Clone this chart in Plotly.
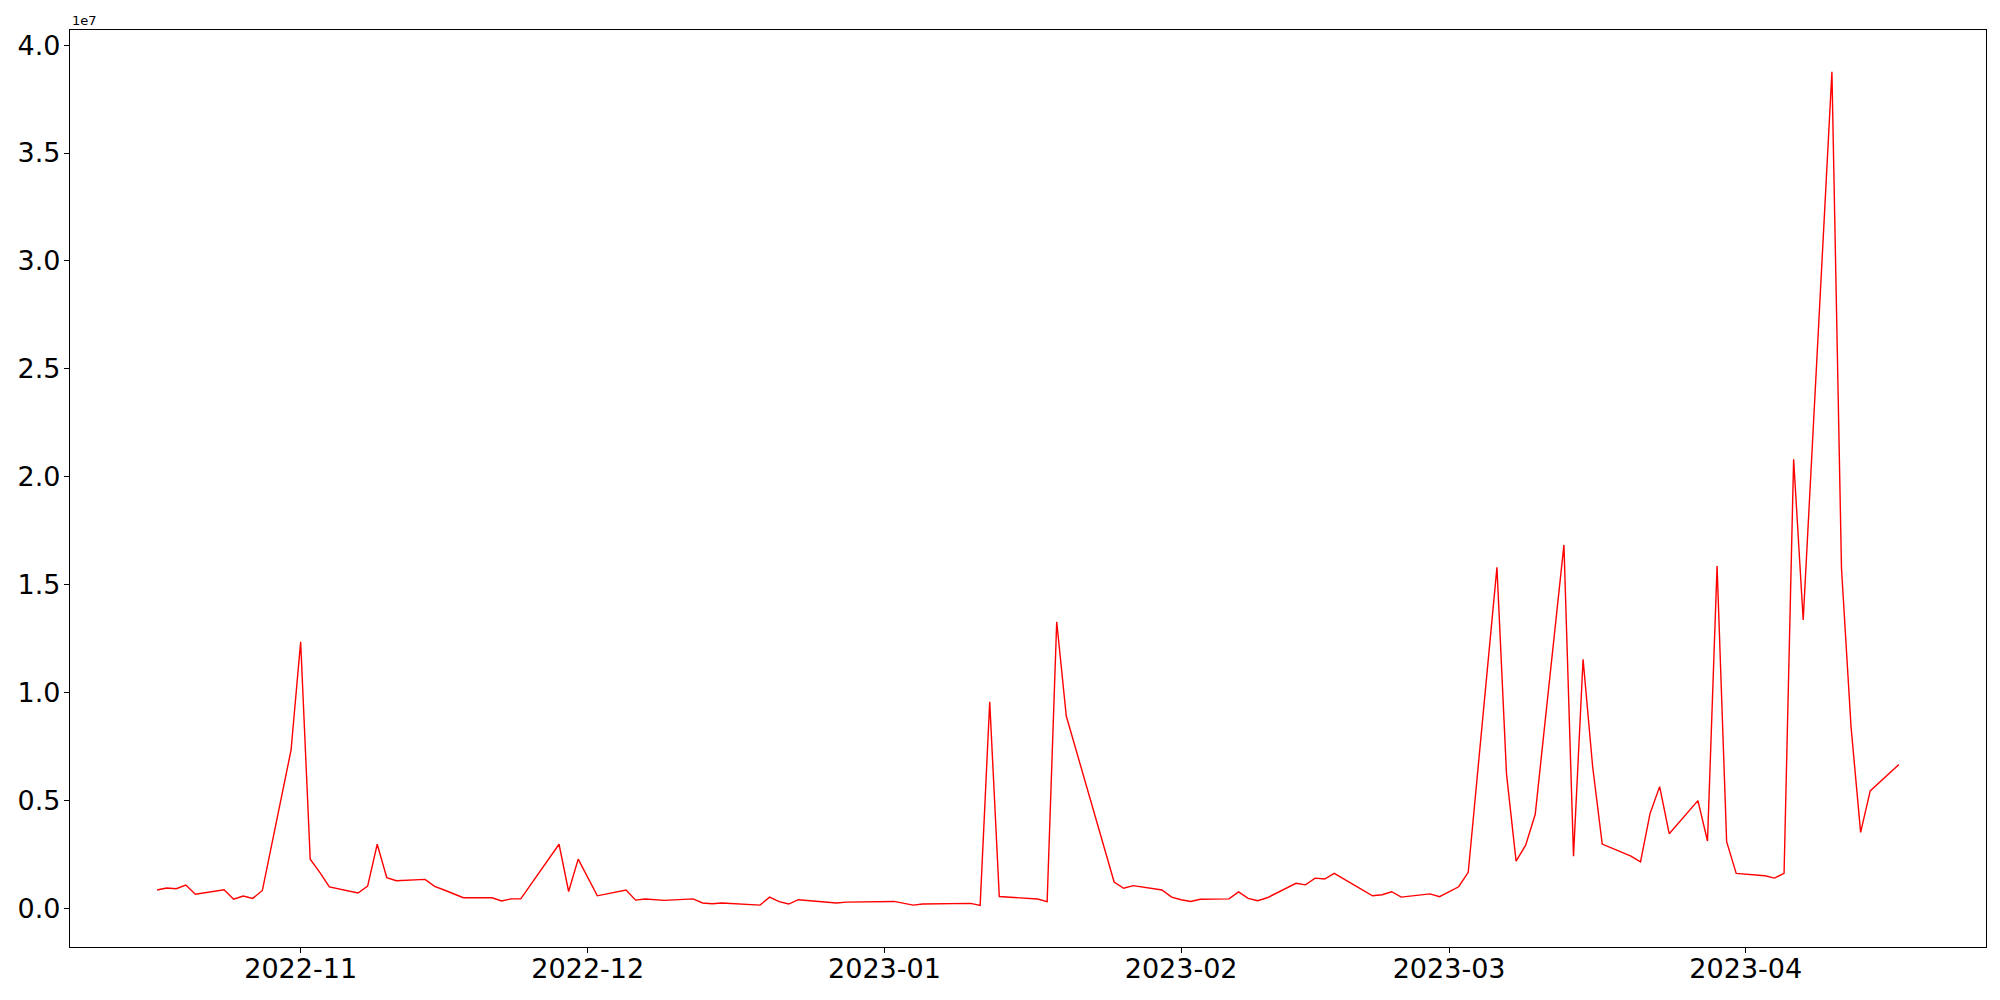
import plotly.graph_objects as go
from datetime import datetime, timedelta

dates = [
    "2022-10-17", "2022-10-18", "2022-10-19", "2022-10-20", "2022-10-21",
    "2022-10-24", "2022-10-25", "2022-10-26", "2022-10-27", "2022-10-28",
    "2022-10-31", "2022-11-01", "2022-11-02", "2022-11-03", "2022-11-04",
    "2022-11-07", "2022-11-08", "2022-11-09", "2022-11-10", "2022-11-11",
    "2022-11-14", "2022-11-15", "2022-11-16", "2022-11-18",
    "2022-11-21", "2022-11-22", "2022-11-23", "2022-11-24",
    "2022-11-28", "2022-11-29", "2022-11-30", "2022-12-02",
    "2022-12-05", "2022-12-06", "2022-12-07", "2022-12-09",
    "2022-12-12", "2022-12-13", "2022-12-14", "2022-12-15",
    "2022-12-19", "2022-12-20", "2022-12-21", "2022-12-22", "2022-12-23",
    "2022-12-27", "2022-12-28", "2023-01-02", "2023-01-04", "2023-01-05",
    "2023-01-10", "2023-01-11", "2023-01-12", "2023-01-13",
    "2023-01-17", "2023-01-18", "2023-01-19", "2023-01-20",
    "2023-01-25", "2023-01-26", "2023-01-27",
    "2023-01-30", "2023-01-31", "2023-02-01", "2023-02-02", "2023-02-03",
    "2023-02-06", "2023-02-07", "2023-02-08", "2023-02-09", "2023-02-10",
    "2023-02-13", "2023-02-14", "2023-02-15", "2023-02-16", "2023-02-17",
    "2023-02-21", "2023-02-22", "2023-02-23", "2023-02-24",
    "2023-02-27", "2023-02-28", "2023-03-02", "2023-03-03",
    "2023-03-06", "2023-03-07", "2023-03-08", "2023-03-09", "2023-03-10",
    "2023-03-13", "2023-03-14", "2023-03-15", "2023-03-16", "2023-03-17",
    "2023-03-20", "2023-03-21", "2023-03-22", "2023-03-23", "2023-03-24",
    "2023-03-27", "2023-03-28", "2023-03-29", "2023-03-30", "2023-03-31",
    "2023-04-03", "2023-04-04", "2023-04-05", "2023-04-06", "2023-04-07",
    "2023-04-10", "2023-04-11", "2023-04-12", "2023-04-13", "2023-04-14",
    "2023-04-17",
]

volume = [
    850000, 940000, 910000, 1080000, 650000,
    860000, 420000, 570000, 460000, 830000,
    7340000, 12350000, 2280000, 1670000, 990000,
    710000, 1030000, 2970000, 1420000, 1280000,
    1340000, 1020000, 850000, 490000,
    490000, 340000, 440000, 440000,
    2970000, 780000, 2280000, 580000,
    850000, 380000, 430000, 370000,
    440000, 250000, 210000, 250000,
    150000, 520000, 310000, 200000, 400000,
    250000, 290000, 320000, 150000, 200000,
    230000, 140000, 9570000, 550000,
    430000, 310000, 13280000, 8910000,
    1220000, 930000, 1050000,
    850000, 520000, 400000, 320000, 420000,
    440000, 760000, 460000, 350000, 490000,
    1160000, 1090000, 1400000, 1360000, 1620000,
    580000, 630000, 770000, 520000,
    670000, 540000, 1000000, 1670000,
    15800000, 6220000, 2190000, 2930000, 4360000,
    16840000, 2420000, 11540000, 6560000, 2980000,
    2420000, 2150000, 4400000, 5640000, 3460000,
    4990000, 3120000, 15860000, 3090000, 1620000,
    1510000, 1400000, 1620000, 20810000, 13360000,
    38770000, 15760000, 8400000, 3520000, 5440000,
    6670000,
]

y_tick_labels = ["0.0", "0.5", "1.0", "1.5", "2.0", "2.5", "3.0", "3.5", "4.0"]
y_tick_values = [i * 5e6 for i in range(len(y_tick_labels))]
offset_label = "1e7"

# matplotlib-like 5% margins
d0 = datetime.fromisoformat(dates[0])
d1 = datetime.fromisoformat(dates[-1])
pad = (d1 - d0) * 0.05
x_range = [(d0 - pad).isoformat(), (d1 + pad).isoformat()]
vmin, vmax = min(volume), max(volume)
ypad = (vmax - vmin) * 0.05
y_range = [vmin - ypad, vmax + ypad]

fig = go.Figure()
fig.add_trace(go.Scatter(
    x=dates, y=volume, mode="lines",
    line=dict(color="red", width=1.4),
    showlegend=False,
))

font_family = "DejaVu Sans"
fig.update_layout(
    width=2000, height=1000,
    margin=dict(l=70, r=14, t=30, b=53, autoexpand=False),
    paper_bgcolor="white", plot_bgcolor="white",
    font=dict(family=font_family, color="black"),
    showlegend=False,
)
fig.update_xaxes(
    type="date", range=x_range, automargin=False,
    tick0="2022-11-01", dtick="M1", tickformat="%Y-%m",
    ticks="outside", ticklen=5, tickwidth=1.1, tickcolor="black",
    tickfont=dict(family=font_family, size=27, color="black"),
    ticklabelstandoff=-7,
    showline=True, linecolor="black", linewidth=1.1, mirror=True,
    showgrid=False, zeroline=False,
)
fig.update_yaxes(
    range=y_range, automargin=False,
    tickvals=y_tick_values, ticktext=y_tick_labels,
    ticks="outside", ticklen=5, tickwidth=1.1, tickcolor="black",
    tickfont=dict(family=font_family, size=27, color="black"),
    ticklabelstandoff=-2,
    showline=True, linecolor="black", linewidth=1.1, mirror=True,
    showgrid=False, zeroline=False,
)
fig.add_annotation(
    text=offset_label, xref="paper", yref="paper", x=0, y=1,
    xanchor="left", yanchor="bottom", showarrow=False,
    font=dict(family=font_family, size=13, color="black"),
    yshift=0,
)

fig.write_html(
    "out.html",
    config={"displayModeBar": False},
    post_script="document.body.style.margin='0px';",
)
